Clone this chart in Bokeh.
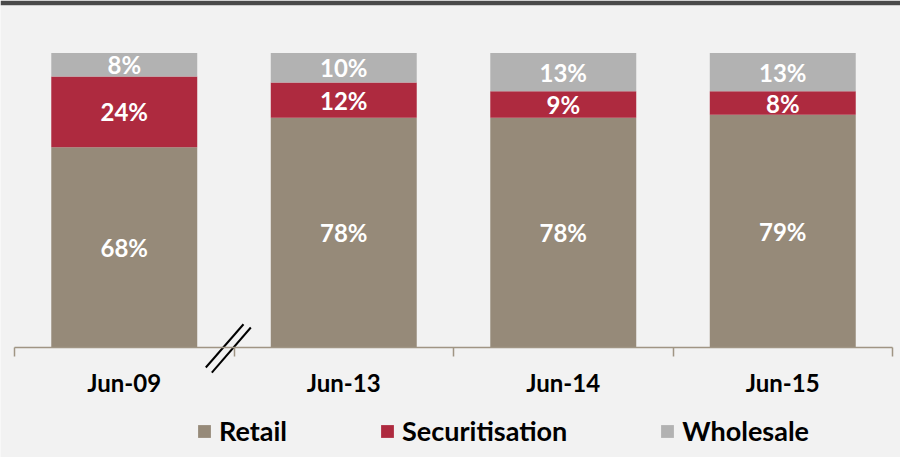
from bokeh.plotting import figure
from bokeh.models import ColumnDataSource, Range1d, FixedTicker, Legend, LegendItem, LinearAxis
from bokeh.core.properties import value
from bokeh.embed import file_html
from bokeh.resources import INLINE

# ---- data ----
categories = ["Jun-09", "Jun-13", "Jun-14", "Jun-15"]
retail = [68, 78, 78, 79]
securitisation = [24, 12, 9, 8]
wholesale = [8, 10, 13, 13]
series_names = ["Retail", "Securitisation", "Wholesale"]
series_values = [retail, securitisation, wholesale]
colors = ["#968a79", "#ae2a3f", "#b2b2b2"]

# axis-break decoration (between first and second category)
break_x0 = [0.8715, 0.899]
break_y0 = [-6.8, -8.5]
break_x1 = [1.0433, 1.0765]
break_y1 = [7.9, 6.8]

FONT = "Lato"

xpos = [i + 0.5 for i in range(len(categories))]
src = ColumnDataSource(dict(x=xpos, **{n: v for n, v in zip(series_names, series_values)}))

p = figure(width=900, height=457, output_backend="svg", toolbar_location=None,
           x_range=Range1d(-0.0638, 4.0364), y_range=Range1d(-37.35, 116.13),
           min_border=0, min_border_top=5, min_border_left=0, min_border_right=0,
           min_border_bottom=0, title=None,
           x_axis_location=None, y_axis_location=None)
p.border_fill_color = "#4a4a4a"
p.background_fill_color = "#f2f2f2"
p.outline_line_color = None
p.grid.visible = False

renderers = p.vbar_stack(series_names, x="x", width=0.665, color=colors, source=src,
                         line_color=None)

# labels centred in each segment
lx, ly, lt = [], [], []
bottoms = [0] * len(categories)
for vals in series_values:
    for i, v in enumerate(vals):
        lx.append(xpos[i])
        ly.append(bottoms[i] + v / 2)
        lt.append(f"{v}%")
        bottoms[i] += v
p.text(x=lx, y=ly, text=lt, text_font=value(FONT), text_font_style="bold",
       text_font_size="24px", text_color="white", text_align="center",
       text_baseline="middle")

# x axis with boundary ticks
ax = LinearAxis(fixed_location=0, bounds=(0, len(categories)))
ax.ticker = FixedTicker(ticks=xpos, minor_ticks=list(range(len(categories) + 1)))
ax.major_label_overrides = {x: c for x, c in zip(xpos, categories)}
ax.major_tick_out = 0
ax.major_tick_in = 0
ax.minor_tick_out = 9
ax.minor_tick_in = 0
ax.axis_line_color = "#a09584"
ax.axis_line_width = 1.5
ax.minor_tick_line_color = "#a09584"
ax.minor_tick_line_width = 1.5
ax.major_label_text_font = FONT
ax.major_label_text_font_style = "bold"
ax.major_label_text_font_size = "24px"
ax.major_label_text_color = "black"
ax.major_label_standoff = 11
p.add_layout(ax, "below")

p.segment(x0=break_x0, y0=break_y0, x1=break_x1, y1=break_y1,
          line_color="black", line_width=2)

items = [LegendItem(label=n, renderers=[r]) for n, r in zip(series_names, renderers)]
legend = Legend(items=items, orientation="horizontal", location=(196, 10),
                glyph_width=16, glyph_height=16, label_standoff=7, spacing=92,
                padding=0, margin=0, border_line_color=None,
                background_fill_alpha=0,
                label_text_font=FONT, label_text_font_style="bold",
                label_text_font_size="27px", label_text_color="black")
p.add_layout(legend)

open("out.html", "w").write(file_html(p, INLINE))
